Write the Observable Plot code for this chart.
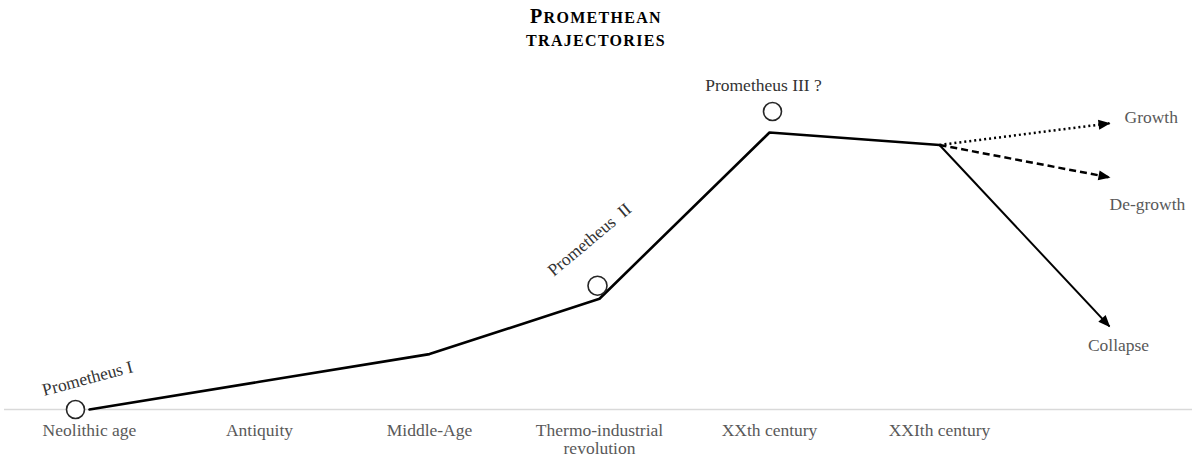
<!DOCTYPE html>
<html>
<head>
<meta charset="utf-8">
<script src="https://cdn.jsdelivr.net/npm/d3@7"></script>
<script src="https://cdn.jsdelivr.net/npm/@observablehq/plot@0.6"></script>
<style>
  html, body { margin: 0; padding: 0; background: #fff; }
  #wrap { position: relative; width: 1192px; height: 459px; }
  #title { position: absolute; left: 0; top: 0; width: 1192px; text-align: center;
           font-family: "Liberation Serif", "Times New Roman", serif; font-weight: bold;
           color: #000; letter-spacing: 1.3px; pointer-events: none; }
  #title .l { position: absolute; left: 0; width: 1192px; text-align: center; font-size: 16px; line-height: 1; }
  #title .big { font-size: 20px; }
</style>
</head>
<body>
<div id="wrap">
  <div id="title">
    <div class="l" style="top:6px"><span class="big">P</span>ROMETHEAN</div>
    <div class="l" style="top:33px">TRAJECTORIES</div>
  </div>
</div>
<script>
// ---- data ----
const categories = ["Neolithic age", "Antiquity", "Middle-Age", "Thermo-industrial\nrevolution", "XXth century", "XXIth century"];
const trajectory = [0, 1, 2, 4, 10, 9.55];
const scenarioNames = ["Growth", "De-growth", "Collapse"];
const scenarioEnd = [10.33, 8.38, 3.0];
const scenarioStep = 6; // horizon index after XXIth century
const prometheusNames = ["Prometheus I", "Prometheus  II", "Prometheus III ?"];
const prometheusAt = [0, 3, 4]; // category index of each Promethean moment
const baselineSpan = [-0.5, 6.5];

// ---- tables built from data ----
const line = categories.map((c, i) => ({i, v: trajectory[i]}));
const last = line[line.length - 1];
const scen = scenarioNames.map((name, k) => ({name, x1: last.i, y1: last.v, x2: scenarioStep, y2: scenarioEnd[k]}));
const prom = prometheusNames.map((name, k) => ({name, i: prometheusAt[k], v: trajectory[prometheusAt[k]]}));

const serif = "Liberation Serif, Times New Roman, serif";
const textStyle = {fontFamily: serif, fontSize: 17.5};

const svg = Plot.plot({
  width: 1192,
  height: 459,
  marginLeft: 89,
  marginRight: 83,
  marginTop: 132,
  marginBottom: 50,
  x: {type: "linear", domain: [0, 6]},
  y: {domain: [0, 10], axis: null},
  style: {fontFamily: serif, background: "transparent"},
  marks: [
    Plot.ruleY([0], {x1: baselineSpan[0], x2: baselineSpan[1], stroke: "#d9d9d9", strokeWidth: 1.5}),
    Plot.axisX(d3.range(categories.length), {
      tickFormat: (i) => categories[i], tickSize: 0, tickPadding: 13,
      fontSize: 17.5, fontFamily: serif, fill: "#595959", lineHeight: 1.06, label: null
    }),
    Plot.line(line, {x: "i", y: "v", stroke: "#000", strokeWidth: 2.6, strokeLinejoin: "round"}),
    Plot.link(scen.filter(d => d.name === "Growth"), {x1: "x1", y1: "y1", x2: "x2", y2: "y2", stroke: "#000", strokeWidth: 2.5, strokeDasharray: "2,3", markerEnd: "arrow"}),
    Plot.link(scen.filter(d => d.name === "De-growth"), {x1: "x1", y1: "y1", x2: "x2", y2: "y2", stroke: "#000", strokeWidth: 2.5, strokeDasharray: "7,4", markerEnd: "arrow"}),
    Plot.link(scen.filter(d => d.name === "Collapse"), {x1: "x1", y1: "y1", x2: "x2", y2: "y2", stroke: "#000", strokeWidth: 2, markerEnd: "arrow"}),
    Plot.text(scen.filter(d => d.name === "Growth"), {x: "x2", y: "y2", text: "name", ...textStyle, fill: "#595959", textAnchor: "start", dx: 15, dy: -6}),
    Plot.text(scen.filter(d => d.name === "De-growth"), {x: "x2", y: "y2", text: "name", ...textStyle, fill: "#595959", textAnchor: "start", dx: 0, dy: 27}),
    Plot.text(scen.filter(d => d.name === "Collapse"), {x: "x2", y: "y2", text: "name", ...textStyle, fill: "#595959", textAnchor: "middle", dx: 9, dy: 19}),
    // Promethean markers
    Plot.dot(prom.filter(d => d.i === 0), {x: "i", y: "v", r: 9, fill: "#fff", stroke: "#262626", strokeWidth: 1.6, dx: -14}),
    Plot.dot(prom.filter(d => d.i === 3), {x: "i", y: "v", r: 9.5, fill: "#fff", stroke: "#262626", strokeWidth: 1.6, dx: -2, dy: -13}),
    Plot.dot(prom.filter(d => d.i === 4), {x: "i", y: "v", r: 9, fill: "#fff", stroke: "#262626", strokeWidth: 1.6, dx: 3, dy: -21}),
    Plot.text(prom.filter(d => d.i === 0), {x: "i", y: "v", text: "name", ...textStyle, fill: "#333", rotate: -15, dx: -2, dy: -31}),
    Plot.text(prom.filter(d => d.i === 3), {x: "i", y: "v", text: "name", ...textStyle, fill: "#333", rotate: -40, dx: -10, dy: -59}),
    Plot.text(prom.filter(d => d.i === 4), {x: "i", y: "v", text: "name", ...textStyle, fill: "#333", dx: -6, dy: -47})
  ]
});

// filled triangular arrowheads
svg.querySelectorAll("marker").forEach((m) => {
  const color = m.getAttribute("stroke") || "#000";
  m.setAttribute("viewBox", "-13 -7 15 14");
  m.setAttribute("markerUnits", "userSpaceOnUse");
  m.setAttribute("markerWidth", 15);
  m.setAttribute("markerHeight", 14);
  m.setAttribute("fill", color);
  m.setAttribute("stroke", "none");
  m.style.overflow = "visible";
  const p = m.querySelector("path");
  if (p) p.setAttribute("d", "M-11,-5L1,0L-11,5Z");
});

svg.style.position = "absolute";
svg.style.left = "0";
svg.style.top = "0";
document.getElementById("wrap").prepend(svg);
</script>
</body>
</html>
